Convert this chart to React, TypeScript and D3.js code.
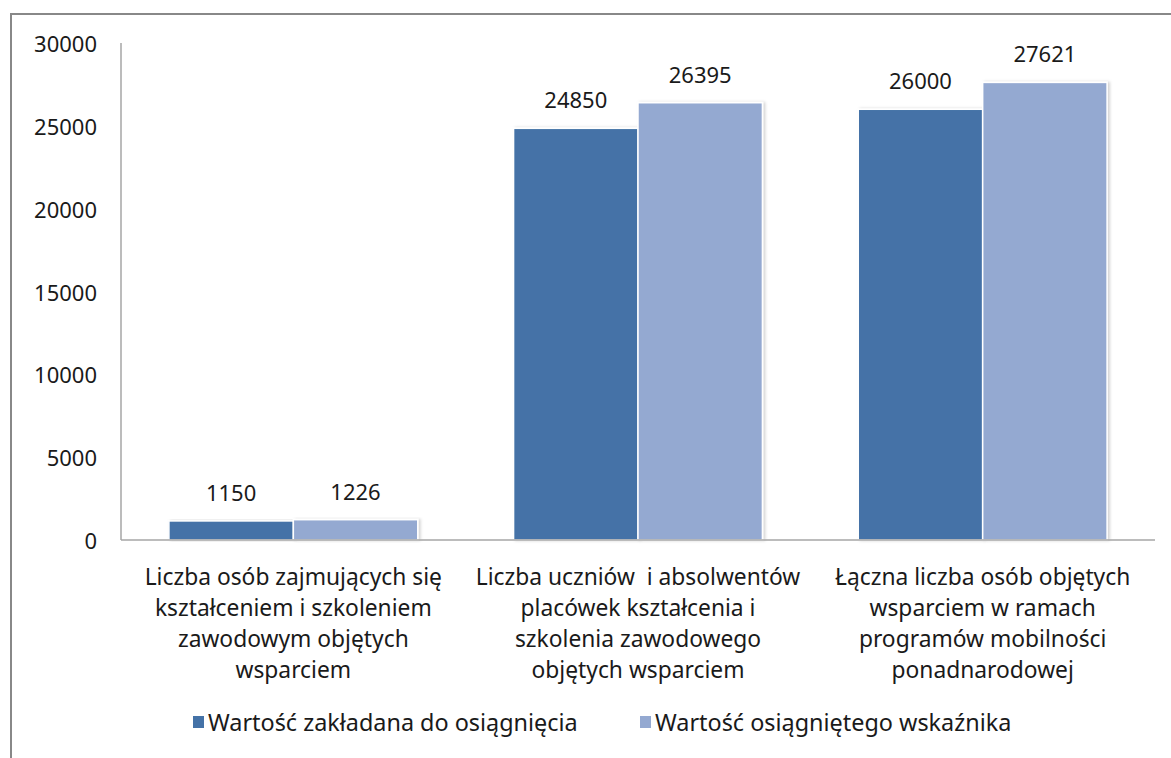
import React from "react";
import * as d3 from "d3";

const categories: string[][] = [
  ["Liczba osób zajmujących się", "kształceniem i szkoleniem", "zawodowym objętych", "wsparciem"],
  ["Liczba uczniów  i absolwentów", "placówek kształcenia i", "szkolenia zawodowego", "objętych wsparciem"],
  ["Łączna liczba osób objętych", "wsparciem w ramach", "programów mobilności", "ponadnarodowej"],
];
const seriesNames: string[] = ["Wartość zakładana do osiągnięcia", "Wartość osiągniętego wskaźnika"];
const targetValues: number[] = [1150, 24850, 26000];
const achievedValues: number[] = [1226, 26395, 27621];
const yTicks: number[] = [0, 5000, 10000, 15000, 20000, 25000, 30000];

const W = 1171;
const H = 758;
const COLORS = ["#4472A7", "#94A9D1"];
const FONT = "'Noto Sans', sans-serif";

export default function App() {
  const plotLeft = 121;
  const plotRight = 1155;
  const plotTop = 43;
  const plotBottom = 540;

  const catKeys = categories.map((c) => c.join(" "));
  const x0 = d3.scaleBand<string>().domain(catKeys).range([plotLeft, plotRight]).paddingInner(0).paddingOuter(0);
  const bw = x0.bandwidth();
  const off = bw * 0.139;
  const x1 = d3.scaleBand<string>().domain(seriesNames).range([off, bw - off]).paddingInner(0);
  const y = d3.scaleLinear().domain([0, 30000]).range([plotBottom, plotTop]);

  const series = [targetValues, achievedValues];

  return (
    <svg
      width={W}
      height={H}
      style={{ position: "absolute", left: 0, top: 0, background: "#fff" }}
      fontFamily={FONT}
    >
      <defs>
        <filter id="sh" x="-10%" y="-10%" width="130%" height="120%">
          <feDropShadow dx="2" dy="0" stdDeviation="1.5" floodColor="#000" floodOpacity="0.18" />
        </filter>
      </defs>
      <rect x={0} y={0} width={W} height={H} fill="#fff" />
      <rect x={11} y={14} width={W + 20} height={H + 20} fill="none" stroke="#888" strokeWidth={2} />

      {/* y axis */}
      <line x1={plotLeft} x2={plotLeft} y1={plotTop} y2={plotBottom} stroke="#A6A6A6" strokeWidth={1.5} />
      {yTicks.map((t) => (
        <text key={t} x={97} y={y(t)} textAnchor="end" dominantBaseline="central" fontSize={22} fill="#1a1a1a">
          {t}
        </text>
      ))}

      {/* bars */}
      {catKeys.map((ck, i) => (
        <g key={ck} transform={`translate(${x0(ck)},0)`}>
          {seriesNames.map((s, j) => {
            const v = series[j][i];
            const bx = x1(s) as number;
            return (
              <g key={s}>
                <rect
                  x={bx}
                  y={y(v)}
                  width={x1.bandwidth()}
                  height={plotBottom - y(v)}
                  fill={COLORS[j]}
                  stroke="#fff"
                  strokeWidth={1.5}
                  filter="url(#sh)"
                />
                <text
                  x={bx + x1.bandwidth() / 2}
                  y={y(v) - 20}
                  textAnchor="middle"
                  fontSize={22}
                  fill="#1a1a1a"
                >
                  {v}
                </text>
              </g>
            );
          })}
        </g>
      ))}

      {/* x axis */}
      <line x1={plotLeft} x2={plotRight} y1={plotBottom} y2={plotBottom} stroke="#A6A6A6" strokeWidth={1.5} />

      {/* category labels */}
      {catKeys.map((ck, i) => (
        <text key={ck} textAnchor="middle" fontSize={22.8} fill="#1a1a1a" style={{ whiteSpace: "pre" }}>
          {categories[i].map((line, k) => (
            <tspan key={k} x={(x0(ck) as number) + bw / 2} y={585 + k * 31}>
              {line}
            </tspan>
          ))}
        </text>
      ))}

      {/* legend */}
      {seriesNames.map((s, j) => {
        const lx = j === 0 ? 193 : 640;
        return (
          <g key={s}>
            <rect x={lx} y={716} width={11} height={12} fill={COLORS[j]} />
            <text x={lx + 15} y={722} dominantBaseline="central" fontSize={23.4} fill="#1a1a1a">
              {s}
            </text>
          </g>
        );
      })}
    </svg>
  );
}
